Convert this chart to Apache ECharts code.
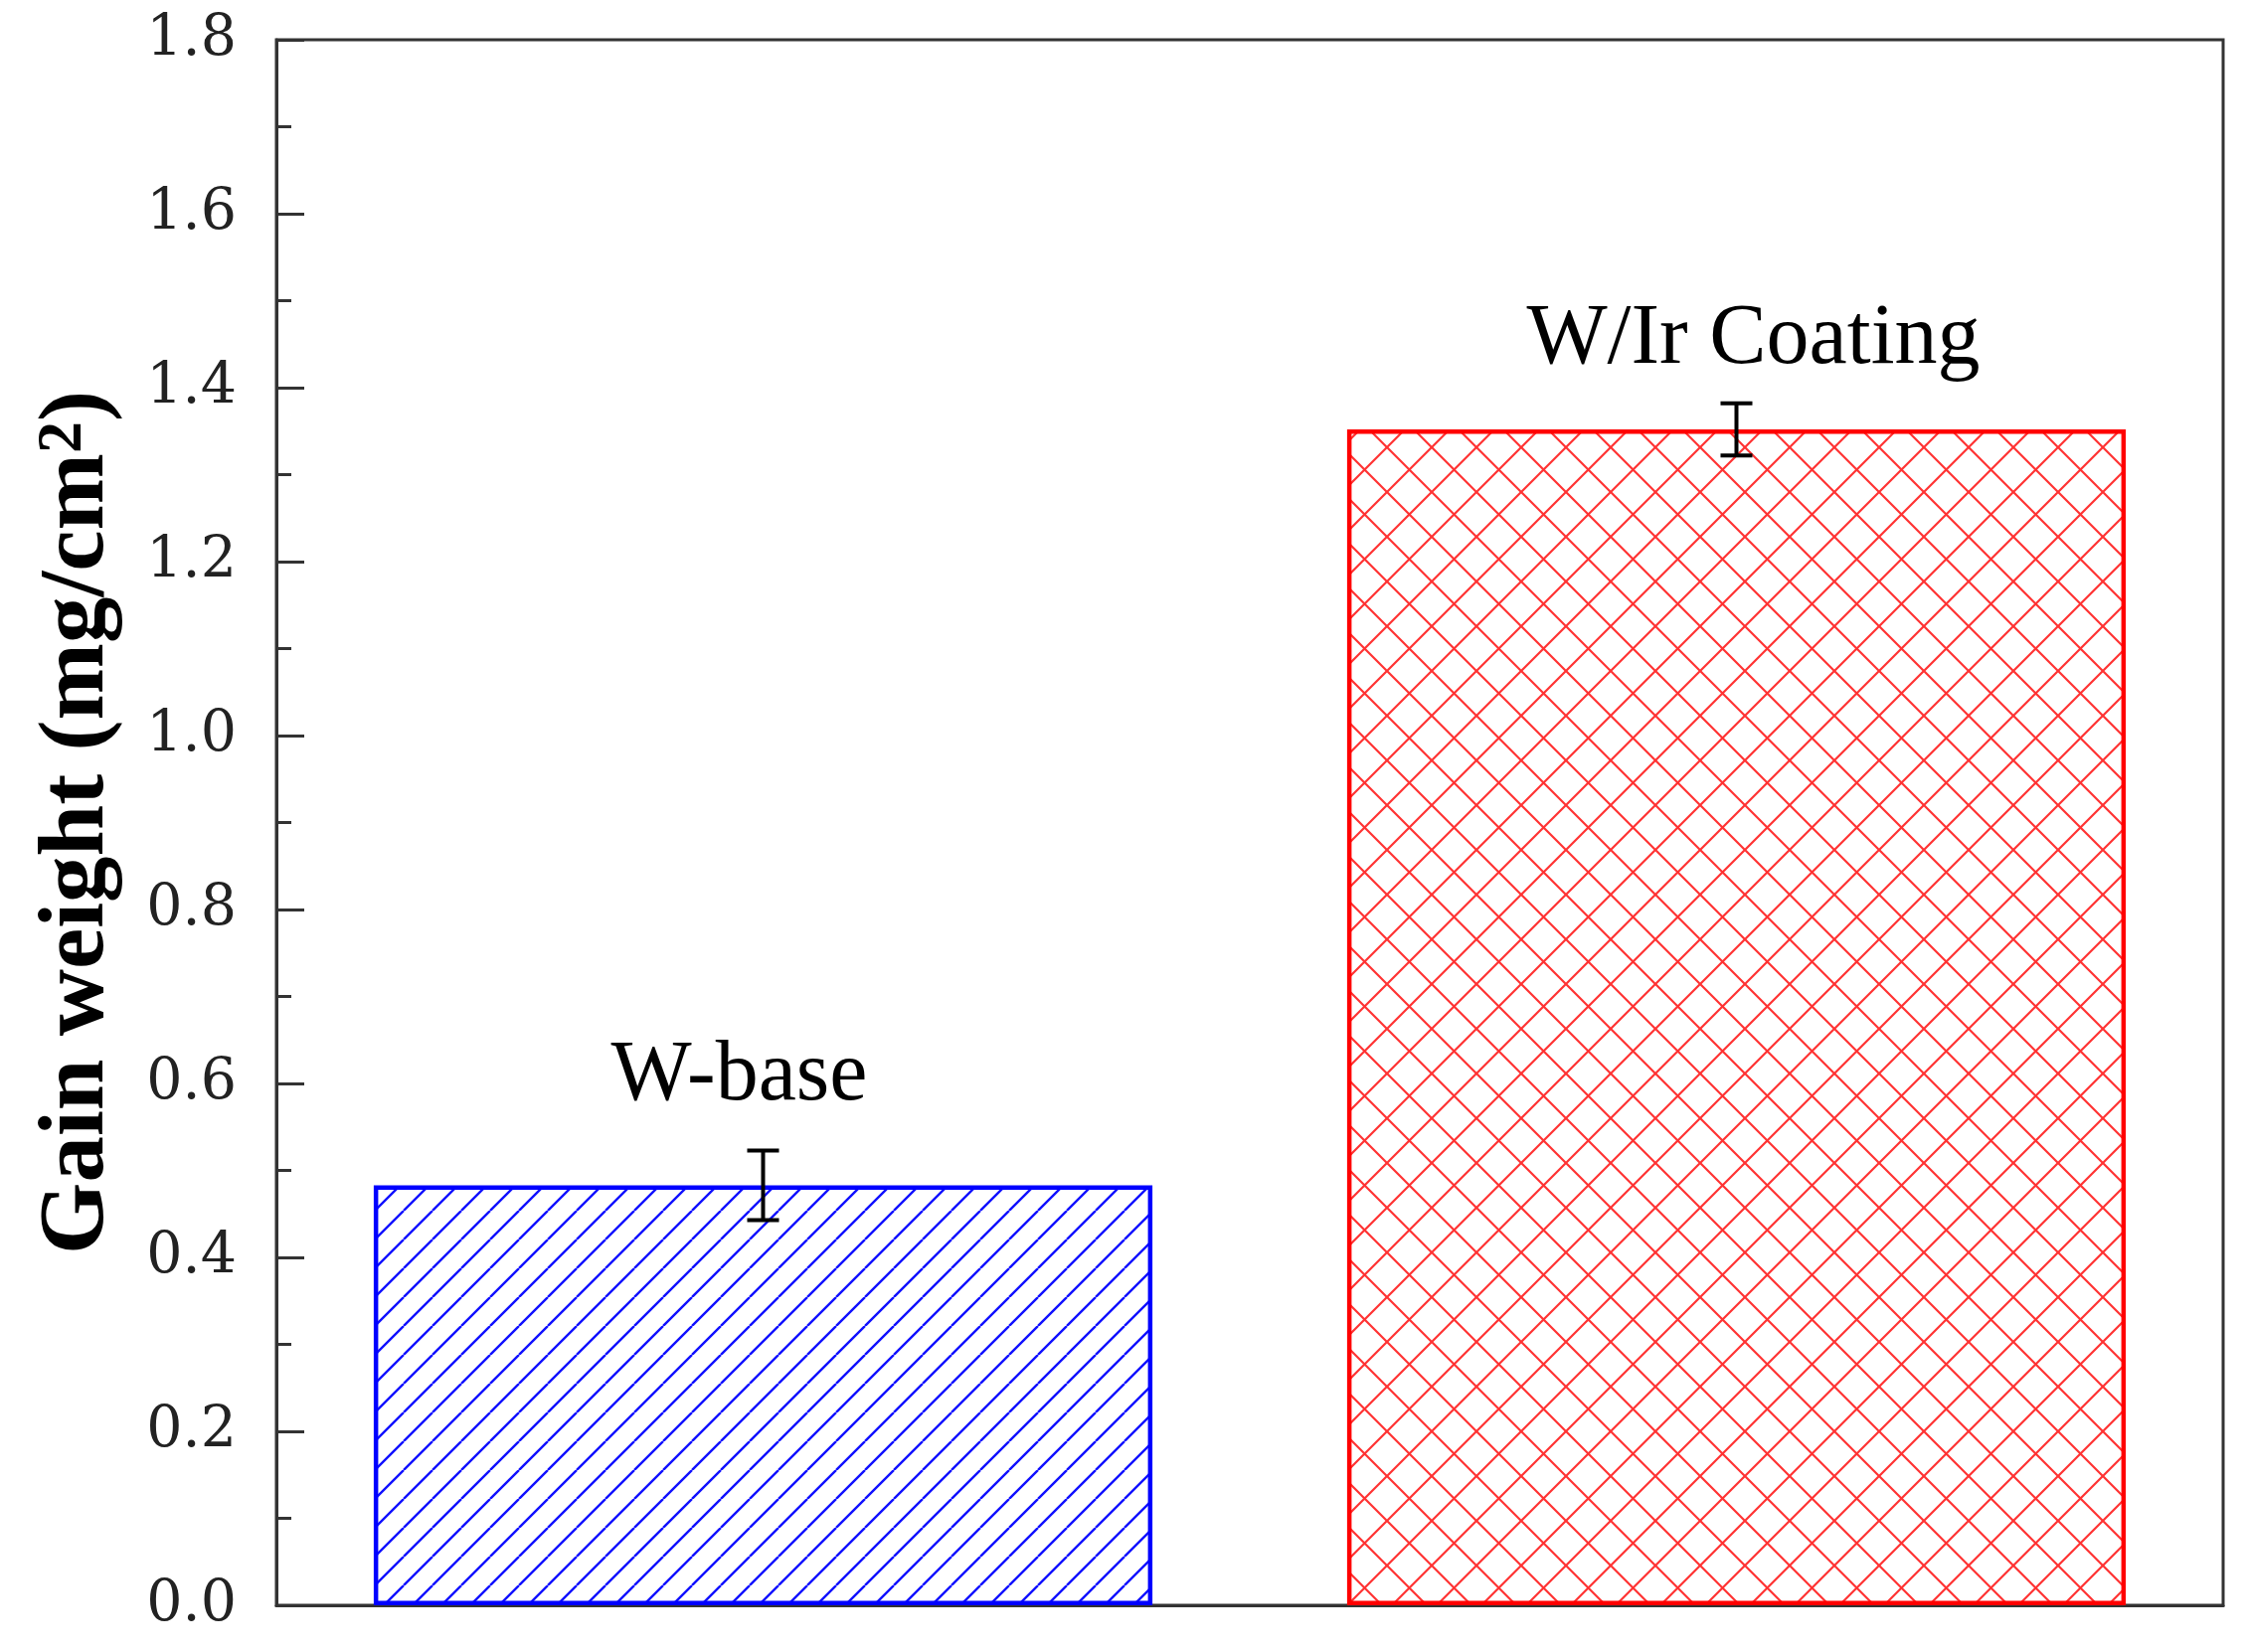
<!DOCTYPE html>
<html>
<head>
<meta charset="utf-8">
<title>Gain weight</title>
<script src="https://cdn.jsdelivr.net/npm/echarts@6/dist/echarts.min.js"></script>
<style>
  html, body { margin: 0; padding: 0; background: #fff; }
  #chart { width: 2259px; height: 1662px; }
</style>
</head>
<body>
<div id="chart"></div>
<script>
// 数据
var categories = ['W-base', 'W/Ir Coating'];
var values = [0.483, 1.352];
var errors = [0.040, 0.030];
var yTicks = [0, 0.2, 0.4, 0.6, 0.8, 1.0, 1.2, 1.4, 1.6, 1.8];

// 斜线填充图案
var makeHatch = function(color, size, lw, cross) {
  var c = document.createElement('canvas');
  c.width = size;
  c.height = size;
  var ctx = c.getContext('2d');
  ctx.strokeStyle = color;
  ctx.lineWidth = lw;
  ctx.beginPath();
  for (var k = -1; k <= 1; k++) {
    ctx.moveTo(k * size, size);
    ctx.lineTo(k * size + size, 0);
    if (cross) {
      ctx.moveTo(k * size, 0);
      ctx.lineTo(k * size + size, size);
    }
  }
  ctx.stroke();
  return { image: c, repeat: 'repeat' };
};

var barStyles = [
  { color: makeHatch('#1010ff', 29, 2.4, false), borderColor: '#0000ff', borderWidth: 4.5 },
  { color: makeHatch('rgba(255,0,0,0.8)', 45, 2.2, true), borderColor: '#ff0000', borderWidth: 4.5 }
];
var labelSet = [
  { distance: 66, offset: [-24, 0] },
  { distance: 47, offset: [17, 0] }
];

var barData = values.map(function(v, i) {
  return {
    value: v,
    itemStyle: barStyles[i],
    label: {
      show: true,
      position: 'top',
      distance: labelSet[i].distance,
      offset: labelSet[i].offset,
      formatter: categories[i],
      fontFamily: 'Liberation Serif',
      fontSize: 86,
      color: '#000'
    }
  };
});

var errData = values.map(function(v, i) {
  return [i, v - errors[i], v + errors[i]];
});

var chart = echarts.init(document.getElementById('chart'));

var option = {
  backgroundColor: '#fff',
  animation: false,
  grid: {
    left: 278, right: 23, top: 40, bottom: 47,
    show: true, borderColor: '#333', borderWidth: 3
  },
  xAxis: {
    type: 'category',
    data: categories,
    axisLine: { show: true, lineStyle: { color: '#333', width: 3 } },
    axisTick: { show: false },
    axisLabel: { show: false },
    splitLine: { show: false }
  },
  yAxis: {
    type: 'value',
    min: yTicks[0],
    max: yTicks[yTicks.length - 1],
    interval: 0.2,
    name: '{t|Gain weight (mg/cm}{s|2}{t|)}',
    nameLocation: 'middle',
    nameGap: 153,
    nameTextStyle: {
      rich: {
        t: { fontFamily: 'Liberation Serif', fontWeight: 'bold', fontSize: 93, color: '#000' },
        s: { fontFamily: 'Liberation Serif', fontWeight: 'bold', fontSize: 64, color: '#000', verticalAlign: 'top' }
      }
    },
    axisLine: { show: true, lineStyle: { color: '#333', width: 3 } },
    axisTick: { show: true, inside: true, length: 28, lineStyle: { color: '#333', width: 3 } },
    minorTick: { show: true, splitNumber: 2, length: 15, lineStyle: { color: '#333', width: 3 } },
    axisLabel: {
      margin: 40,
      fontFamily: 'DejaVu Serif',
      fontSize: 57,
      color: '#222',
      formatter: function(v) { return v.toFixed(1); }
    },
    splitLine: { show: false }
  },
  series: [{
    type: 'bar',
    barWidth: '80%',
    data: barData
  }, {
    // 误差棒
    type: 'custom',
    data: errData,
    z: 5,
    renderItem: function(params, api) {
      var x = api.value(0);
      var lo = api.coord([x, api.value(1)]);
      var hi = api.coord([x, api.value(2)]);
      var w = 16;
      var style = { stroke: '#000', lineWidth: 4 };
      return {
        type: 'group',
        children: [
          { type: 'line', shape: { x1: lo[0], y1: lo[1], x2: hi[0], y2: hi[1] }, style: style },
          { type: 'line', shape: { x1: lo[0] - w, y1: lo[1], x2: lo[0] + w, y2: lo[1] }, style: style },
          { type: 'line', shape: { x1: hi[0] - w, y1: hi[1], x2: hi[0] + w, y2: hi[1] }, style: style }
        ]
      };
    }
  }]
};

chart.setOption(option);
window.addEventListener('resize', function() {
  chart.resize();
});
</script>
</body>
</html>
